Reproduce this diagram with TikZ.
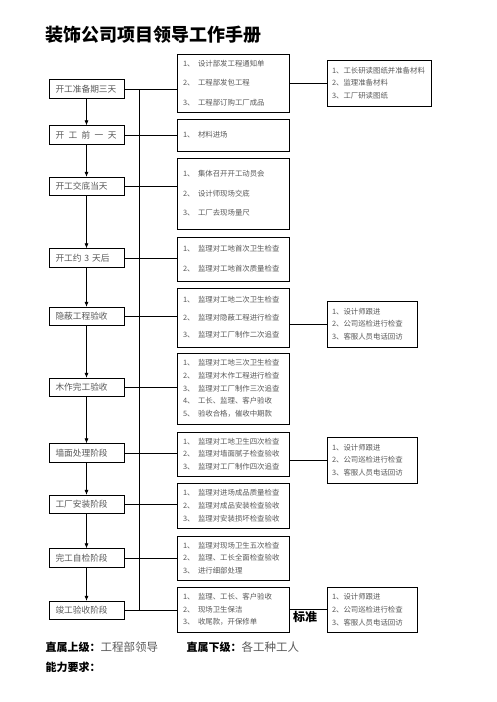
\documentclass[tikz,border=0pt]{standalone}
\usepackage{fontspec}
\setmainfont{Noto Sans CJK SC}
\usetikzlibrary{arrows.meta}
\definecolor{txtgray}{gray}{0.35}
\newcommand{\itemno}[1]{#1、\hspace{3.5pt}}
\tikzset{stage/.style={draw, line width=0.8pt, fill=white, minimum height=18.5pt, text width=62pt, inner xsep=6.5pt, inner ysep=0pt, align=left, text=txtgray, font=\fontsize{8.7}{10}\selectfont},
  task/.style={draw, line width=0.8pt, fill=white, text width=100pt, inner xsep=6pt, inner ysep=0pt, align=left, text=txtgray, font=\fontsize{7.4}{12.7}\selectfont},
  follow/.style={draw, line width=0.8pt, fill=white, text width=80pt, inner xsep=5pt, inner ysep=0pt, align=left, text=txtgray, font=\fontsize{7.4}{12.7}\selectfont},
  link/.style={line width=0.7pt},
  down/.style={line width=0.7pt, -{Latex[length=5pt,width=4pt]}}}

\begin{document}
\begin{tikzpicture}[x=1pt, y=-1pt]
\useasboundingbox (0,0) rectangle (496,702);

\node[anchor=west, font=\fontsize{18}{20}\selectfont\bfseries] (title) at (42,35) {装饰公司项目领导工作手册};
\node[anchor=west, font=\fontsize{12}{14}\selectfont\bfseries] (std) at (289.5,617) {标准};

% stages
\node[stage] (s1) at (86.5,89) {开工准备期三天};
\node[stage] (s2) at (86.5,135) {\makebox[61pt][s]{开\hfill 工\hfill 前\hfill 一\hfill 天}};
\node[stage] (s3) at (86.5,186.5) {开工交底当天};
\node[stage] (s4) at (86.5,258) {开工约 3 天后};
\node[stage] (s5) at (86.5,316.5) {隐蔽工程验收};
\node[stage] (s6) at (86.5,387.5) {木作完工验收};
\node[stage] (s7) at (86.5,453) {墙面处理阶段};
\node[stage] (s8) at (86.5,504.5) {工厂安装阶段};
\node[stage] (s9) at (86.5,558) {完工自检阶段};
\node[stage] (s10) at (86.5,610.5) {竣工验收阶段};

% tasks
\node[task, minimum height=58pt, font=\fontsize{7.4}{19.5}\selectfont] (m1) at (233,83) {\itemno{1}设计部发工程通知单\\\itemno{2}工程部发包工程\\\itemno{3}工程部订购工厂成品};
\node[task, minimum height=32pt] (m2) at (233,135) {\itemno{1}材料进场};
\node[task, minimum height=71pt, font=\fontsize{7.4}{19.5}\selectfont] (m3) at (233,193.5) {\itemno{1}集体召开开工动员会\\\itemno{2}设计师现场交底\\\itemno{3}工厂去现场量尺};
\node[task, minimum height=44pt, font=\fontsize{7.4}{20}\selectfont] (m4) at (233,259) {\itemno{1}监理对工地首次卫生检查\\\itemno{2}监理对工地首次质量检查};
\node[task, minimum height=59pt, font=\fontsize{7.4}{17.5}\selectfont] (m5) at (233,317.5) {\itemno{1}监理对工地二次卫生检查\\\itemno{2}监理对隐蔽工程进行检查\\\itemno{3}监理对工厂制作二次追查};
\node[task, minimum height=71pt] (m6) at (233,388.5) {\itemno{1}监理对工地三次卫生检查\\\itemno{2}监理对木作工程进行检查\\\itemno{3}监理对工厂制作三次追查\\\itemno{4}工长、监理、客户验收\\\itemno{5}验收合格，催收中期款};
\node[task, minimum height=44pt] (m7) at (233,454) {\itemno{1}监理对工地卫生四次检查\\\itemno{2}监理对墙面腻子检查验收\\\itemno{3}监理对工厂制作四次追查};
\node[task, minimum height=45pt] (m8) at (233,505.5) {\itemno{1}监理对进场成品质量检查\\\itemno{2}监理对成品安装检查验收\\\itemno{3}监理对安装损坏检查验收};
\node[task, minimum height=44pt] (m9) at (233,558) {\itemno{1}监理对现场卫生五次检查\\\itemno{2}监理、工长全面检查验收\\\itemno{3}进行细部处理};
\node[task, minimum height=45pt] (m10) at (233,609.5) {\itemno{1}监理、工长、客户验收\\\itemno{2}现场卫生保洁\\\itemno{3}收尾款，开保修单};

% follow-ups
\node[follow, text width=94pt, minimum height=46pt, font=\fontsize{7.4}{12.2}\selectfont] (r1) at (379,83) {1、工长研读图纸并准备材料\\2、监理准备材料\\3、工厂研读图纸};
\node[follow, minimum height=46pt] (r2) at (372,324) {1、设计师跟进\\2、公司巡检进行检查\\3、客服人员电话回访};
\node[follow, minimum height=46pt] (r3) at (372,460) {1、设计师跟进\\2、公司巡检进行检查\\3、客服人员电话回访};
\node[follow, minimum height=45pt] (r4) at (372,609.5) {1、设计师跟进\\2、公司巡检进行检查\\3、客服人员电话回访};

% connectors
\coordinate (trunk) at (139,0);
\draw[link] (s1.east -| trunk) -- (s10.east -| trunk);
\foreach \i in {1,...,10}
  \draw[link] (s\i.east) -- (s\i.east -| m\i.west);
\foreach \i/\j in {1/2,2/3,3/4,4/5,5/6,6/7,7/8,8/9,9/10}
  \draw[down] (s\i.south) -- (s\j.north);
\draw[link] (r1.west -| m1.east) -- (r1.west);
\draw[link] (r2.west -| m5.east) -- (r2.west);
\draw[link] (r3.west -| m7.east) -- (r3.west);
\draw[link] (r4.west -| m10.east) -- (r4.west);

% footer
\node[anchor=west, font=\fontsize{11}{13}\selectfont] (boss) at (42,647) {\textbf{直属上级：}\textcolor{txtgray}{\fontsize{11.5}{13}\selectfont 工程部领导}};
\node[anchor=west, font=\fontsize{11}{13}\selectfont] (crew) at (183,647) {\textbf{直属下级：}\textcolor{txtgray}{\fontsize{11.5}{13}\selectfont 各工种工人}};
\node[anchor=west, font=\fontsize{11}{13}\selectfont\bfseries] (skill) at (42,667) {能力要求：};
\end{tikzpicture}
\end{document}
